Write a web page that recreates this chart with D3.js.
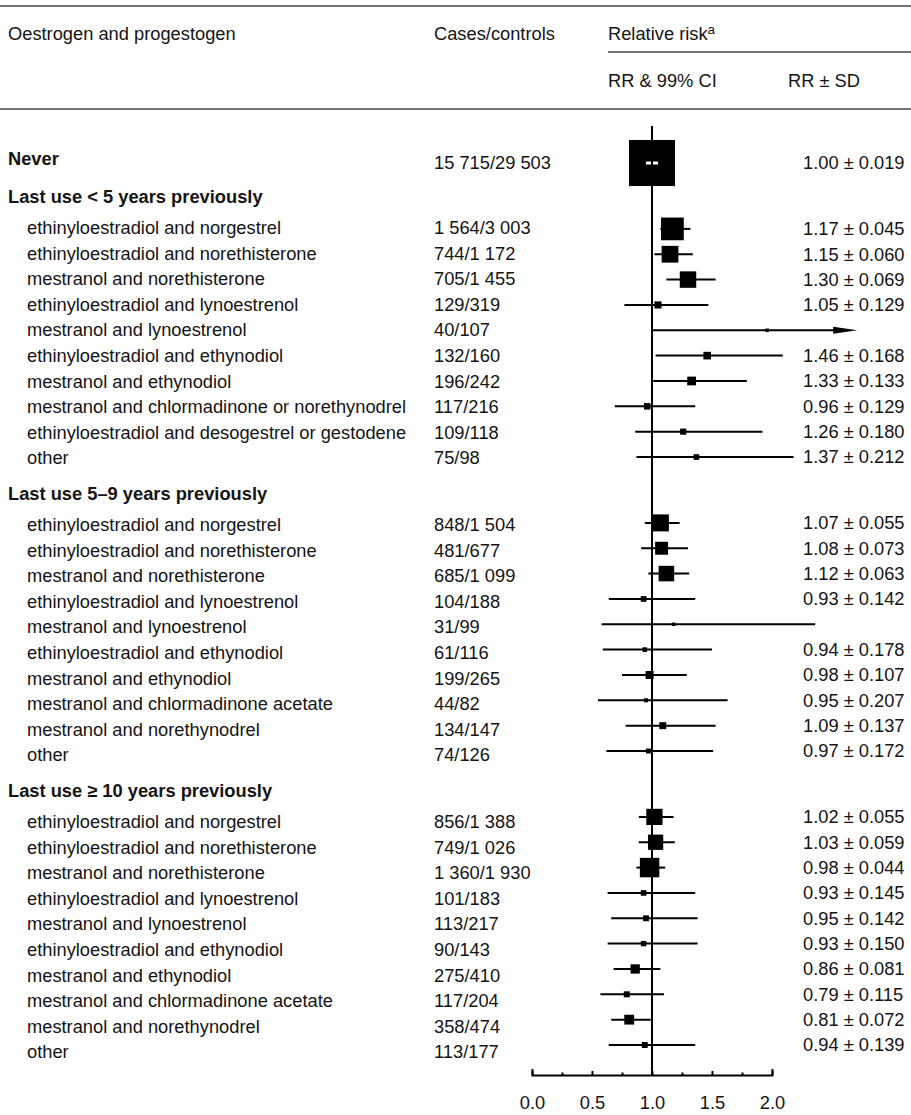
<!DOCTYPE html>
<html><head><meta charset="utf-8">
<script src="https://cdn.jsdelivr.net/npm/d3@7"></script>
<style>
body{margin:0;background:#fff;}
svg text{font-family:"Liberation Sans",Arial,Helvetica,sans-serif;fill:#141414;}
</style></head><body>
<svg id="c" width="911" height="1115"></svg>
<script>
// ---------------- data ----------------
const groupNames = ["Never", "Last use < 5 years previously", "Last use 5–9 years previously", "Last use \u2265 10 years previously"];

const rowGroup = [0,
  1,1,1,1,1,1,1,1,1,1,
  2,2,2,2,2,2,2,2,2,2,
  3,3,3,3,3,3,3,3,3,3];

const rowLabels = [null,
  "ethinyloestradiol and norgestrel", "ethinyloestradiol and norethisterone", "mestranol and norethisterone",
  "ethinyloestradiol and lynoestrenol", "mestranol and lynoestrenol", "ethinyloestradiol and ethynodiol",
  "mestranol and ethynodiol", "mestranol and chlormadinone or norethynodrel",
  "ethinyloestradiol and desogestrel or gestodene", "other",
  "ethinyloestradiol and norgestrel", "ethinyloestradiol and norethisterone", "mestranol and norethisterone",
  "ethinyloestradiol and lynoestrenol", "mestranol and lynoestrenol", "ethinyloestradiol and ethynodiol",
  "mestranol and ethynodiol", "mestranol and chlormadinone acetate", "mestranol and norethynodrel", "other",
  "ethinyloestradiol and norgestrel", "ethinyloestradiol and norethisterone", "mestranol and norethisterone",
  "ethinyloestradiol and lynoestrenol", "mestranol and lynoestrenol", "ethinyloestradiol and ethynodiol",
  "mestranol and ethynodiol", "mestranol and chlormadinone acetate", "mestranol and norethynodrel", "other"];

const casesControls = ["15 715/29 503",
  "1 564/3 003", "744/1 172", "705/1 455", "129/319", "40/107", "132/160", "196/242", "117/216", "109/118", "75/98",
  "848/1 504", "481/677", "685/1 099", "104/188", "31/99", "61/116", "199/265", "44/82", "134/147", "74/126",
  "856/1 388", "749/1 026", "1 360/1 930", "101/183", "113/217", "90/143", "275/410", "117/204", "358/474", "113/177"];

const relRisk = [1.00,
  1.17, 1.15, 1.30, 1.05, 1.96, 1.46, 1.33, 0.96, 1.26, 1.37,
  1.07, 1.08, 1.12, 0.93, 1.18, 0.94, 0.98, 0.95, 1.09, 0.97,
  1.02, 1.03, 0.98, 0.93, 0.95, 0.93, 0.86, 0.79, 0.81, 0.94];

const rrSD = [0.019,
  0.045, 0.060, 0.069, 0.129, 0.50, 0.168, 0.133, 0.129, 0.180, 0.212,
  0.055, 0.073, 0.063, 0.142, 0.32, 0.178, 0.107, 0.207, 0.137, 0.172,
  0.055, 0.059, 0.044, 0.145, 0.142, 0.150, 0.081, 0.115, 0.072, 0.139];

// SD printed in the table (not printed for the two smallest groups)
const sdPrinted = [true,
  true,true,true,true,false,true,true,true,true,true,
  true,true,true,true,false,true,true,true,true,true,
  true,true,true,true,true,true,true,true,true,true];

const ciLow = [0.95,
  1.07, 1.02, 1.12, 0.77, 1.00, 1.03, 1.01, 0.69, 0.86, 0.87,
  0.94, 0.91, 0.97, 0.64, 0.58, 0.59, 0.75, 0.55, 0.78, 0.62,
  0.89, 0.89, 0.87, 0.63, 0.66, 0.63, 0.68, 0.57, 0.66, 0.64];

const ciHigh = [1.05,
  1.32, 1.34, 1.53, 1.47, 2.71, 2.09, 1.79, 1.36, 1.92, 2.18,
  1.23, 1.30, 1.31, 1.36, 2.36, 1.50, 1.29, 1.63, 1.53, 1.51,
  1.18, 1.19, 1.11, 1.36, 1.38, 1.38, 1.07, 1.10, 0.99, 1.36];

// upper limit off the scale, drawn as an arrow
const ciTruncated = [false,
  false,false,false,false,true,false,false,false,false,false,
  false,false,false,false,false,false,false,false,false,false,
  false,false,false,false,false,false,false,false,false,false];

const axisTicks = [0, 0.5, 1.0, 1.5, 2.0];
const axisTickLabels = ["0.0", "0.5", "1.0", "1.5", "2.0"];
const minorTicks = [0.25, 0.75, 1.25, 1.75];

// ---------------- layout ----------------
const svg = d3.select("#c");
const W = 911;
const FS = 18.3;
const colCases = 434;

// slot positions
const rows = [];
const headers = [];
let slot = 0;
let lastSlot = 0;
for (let i = 0; i < relRisk.length; i++) {
  const g = rowGroup[i];
  if (i === 0) { slot = 0; }
  else if (rowGroup[i - 1] !== g) { slot = lastSlot + 2.6; headers.push({g, slot: slot - 1.2}); }
  else { slot = lastSlot + 1; }
  rows.push({i, g, slot, label: rowLabels[i], cases: casesControls[i], rr: relRisk[i], sd: rrSD[i],
             printed: sdPrinted[i], lo: ciLow[i], hi: ciHigh[i], trunc: ciTruncated[i]});
  lastSlot = slot;
}
const maxSlot = lastSlot;

const yPlot = d3.scaleLinear().domain([0, maxSlot]).range([163, 1045]);
const yText = d3.scaleLinear().domain([0, maxSlot]).range([161, 1052]);
const x = d3.scaleLinear().domain([0, 2]).range([532, 772]);
const boxSize = d3.scaleLinear().domain([0, 52.6]).range([0, 46]);

// ---------------- header ----------------
const hdr = svg.append("g");
hdr.append("line").attr("x1", 0).attr("x2", W).attr("y1", 6).attr("y2", 6).attr("stroke", "#444").attr("stroke-width", 1.5);
hdr.append("line").attr("x1", 0).attr("x2", W).attr("y1", 109).attr("y2", 109).attr("stroke", "#444").attr("stroke-width", 1.5);
hdr.append("line").attr("x1", 608).attr("x2", W).attr("y1", 52).attr("y2", 52).attr("stroke", "#444").attr("stroke-width", 1.5);
hdr.append("text").attr("x", 8).attr("y", 34).attr("dy", "0.35em").attr("font-size", FS).text("Oestrogen and progestogen");
hdr.append("text").attr("x", colCases).attr("y", 34).attr("dy", "0.35em").attr("font-size", FS).text("Cases/controls");
const rrT = hdr.append("text").attr("x", 608).attr("y", 34).attr("dy", "0.35em").attr("font-size", FS);
rrT.append("tspan").text("Relative risk");
rrT.append("tspan").attr("font-size", 13.5).attr("dy", "-0.45em").text("a");
hdr.append("text").attr("x", 608).attr("y", 81).attr("dy", "0.35em").attr("font-size", FS).text("RR & 99% CI");
hdr.append("text").attr("x", 788).attr("y", 81).attr("dy", "0.35em").attr("font-size", FS).text("RR \u00B1 SD");

// ---------------- left columns ----------------
const left = svg.append("g");
headers.forEach(h => {
  left.append("text").attr("x", 8).attr("y", yText(h.slot)).attr("dy", "0.35em")
    .attr("font-size", FS).attr("font-weight", "bold").text(groupNames[h.g]);
});
rows.forEach(r => {
  if (r.label === null) {
    left.append("text").attr("x", 8).attr("y", yText(r.slot) - 2).attr("dy", "0.35em")
      .attr("font-size", FS).attr("font-weight", "bold").text(groupNames[r.g]);
  } else {
    left.append("text").attr("x", 27).attr("y", yText(r.slot)).attr("dy", "0.35em")
      .attr("font-size", FS).text(r.label);
  }
  left.append("text").attr("x", colCases).attr("y", yText(r.slot) + (r.label === null ? 2 : 0)).attr("dy", "0.35em")
    .attr("font-size", FS).text(r.cases);
  if (r.printed) {
    svg.append("text").attr("x", 803).attr("y", yPlot(r.slot)).attr("dy", "0.35em")
      .attr("font-size", FS).text(r.rr.toFixed(2) + " \u00B1 " + r.sd.toFixed(3));
  }
});

// ---------------- forest plot ----------------
const plot = svg.append("g");
// CI lines
plot.selectAll("line.ci").data(rows).join("line").attr("class", "ci")
  .attr("x1", d => x(d.lo)).attr("x2", d => d.trunc ? x(d.hi) - 20 : x(d.hi))
  .attr("y1", d => yPlot(d.slot)).attr("y2", d => yPlot(d.slot))
  .attr("stroke", "#000").attr("stroke-width", 2);
// arrows
plot.selectAll("path.arrow").data(rows.filter(d => d.trunc)).join("path").attr("class", "arrow")
  .attr("d", d => {
    const xt = x(d.hi), y0 = yPlot(d.slot);
    return `M${xt},${y0} L${xt - 24},${y0 - 3.5} L${xt - 24},${y0 + 3.5} Z`;
  }).attr("fill", "#000");
// boxes
const side = d => Math.max(3.5, boxSize(d.rr / d.sd));
plot.selectAll("rect.box").data(rows).join("rect").attr("class", "box")
  .attr("x", d => x(d.rr) - side(d) / 2)
  .attr("y", d => yPlot(d.slot) - side(d) / 2)
  .attr("width", side).attr("height", side)
  .attr("fill", "#000");
// CI inside a box shown in white
plot.selectAll("line.inner").data(rows.filter(d => {
    const h = side(d) / 2;
    return x(d.lo) > x(d.rr) - h && x(d.hi) < x(d.rr) + h;
  })).join("line").attr("class", "inner")
  .attr("x1", d => x(d.lo)).attr("x2", d => x(d.hi))
  .attr("y1", d => yPlot(d.slot)).attr("y2", d => yPlot(d.slot))
  .attr("stroke", "#fff").attr("stroke-width", 3);

// reference line at RR = 1
const axisY = 1075;
plot.append("line").attr("x1", x(1)).attr("x2", x(1)).attr("y1", 126).attr("y2", axisY)
  .attr("stroke", "#000").attr("stroke-width", 2);

// axis
const axG = svg.append("g").attr("transform", `translate(0,${axisY})`);
axG.call(d3.axisBottom(x).tickValues(axisTicks).tickFormat((d, i) => axisTickLabels[i])
  .tickSize(-4).tickSizeOuter(-6).tickPadding(21));
axG.select(".domain").attr("stroke", "#000").attr("stroke-width", 2);
axG.selectAll(".tick line").attr("stroke", "#000").attr("stroke-width", 2);
axG.selectAll(".tick text").attr("font-size", FS).attr("font-family", "Liberation Sans, Arial, sans-serif").attr("fill", "#222");
const minorG = svg.append("g").attr("transform", `translate(0,${axisY})`);
minorG.call(d3.axisBottom(x).tickValues(minorTicks).tickFormat("").tickSize(-2.5).tickSizeOuter(0));
minorG.select(".domain").remove();
minorG.selectAll(".tick line").attr("stroke", "#000").attr("stroke-width", 2);
</script>
</body></html>
